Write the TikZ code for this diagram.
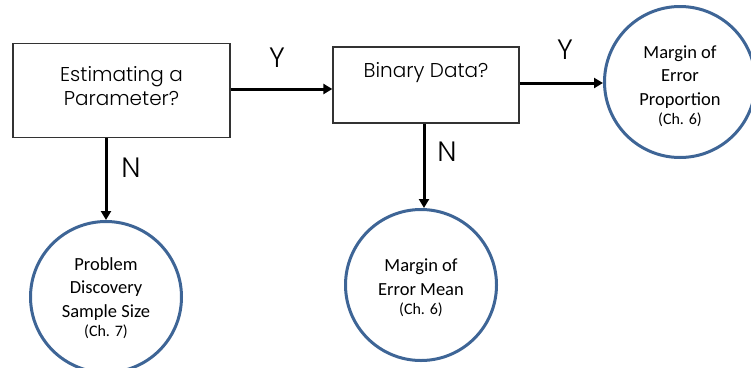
\documentclass[tikz,border=0pt]{standalone}
\usepackage{fontspec}
\setmainfont{Carlito}
\newfontfamily\gothic{Poppins Light}
\usetikzlibrary{arrows.meta}
\definecolor{cblue}{RGB}{62,101,150}
\begin{document}
\begin{tikzpicture}[x=1pt,y=-1pt,
  qbox/.style={draw=black!80,line width=1.3pt,fill=white,inner sep=0pt},
  endcirc/.style={circle,draw=cblue,line width=3pt,minimum size=151pt,inner sep=0pt,align=center,font=\fontsize{18.5}{23.5}\selectfont},
  flow/.style={line width=3pt,-{Triangle[length=9pt,width=10pt]}},
  yn/.style={font=\gothic\fontsize{28}{28}\selectfont}]
\useasboundingbox (0,0) rectangle (751,367);
\node[qbox,minimum width=217pt,minimum height=94pt] (est) at (121.5,90.5) {};
\node[align=center,font=\gothic\fontsize{20}{24}\selectfont] (estt) at (121.5,86) {Estimating a\\Parameter?};
\node[qbox,minimum width=186pt,minimum height=76pt] (bin) at (426,85) {};
\node[font=\gothic\fontsize{20}{24}\selectfont] (bint) at (426,73) {Binary Data?};
\node[endcirc] (prop) at (680,82) {};
\node[align=center,font=\fontsize{18.5}{23.5}\selectfont] (propt) at (680,86) {Margin of\\Error\\Proportion\\[-4pt]{\fontsize{16}{18}\selectfont(Ch. 6)}};
\node[endcirc] (disc) at (106,297) {};
\node[align=center,font=\fontsize{18.5}{23.5}\selectfont] (disct) at (106,298) {Problem\\Discovery\\Sample Size\\[-4pt]{\fontsize{16}{18}\selectfont(Ch. 7)}};
\node[endcirc] (mean) at (421,285) {};
\node[align=center,font=\fontsize{18.5}{23.5}\selectfont] (meant) at (421,288) {Margin of\\Error Mean\\[-4pt]{\fontsize{16}{18}\selectfont(Ch. 6)}};
\draw[flow] (est.east |- 0,89) -- (bin.west |- 0,89);
\draw[flow] (bin.east |- 0,83) -- (prop.west |- 0,83);
\draw[flow] (est.south -| 106,0) -- (disc.north);
\draw[flow] (bin.south -| 424,0) -- (424,208);
\node[yn] (y1) at (277,58) {Y};
\node[yn] (y2) at (565,50) {Y};
\node[yn] (n1) at (131,168) {N};
\node[yn] (n2) at (447,152) {N};
\end{tikzpicture}
\end{document}
